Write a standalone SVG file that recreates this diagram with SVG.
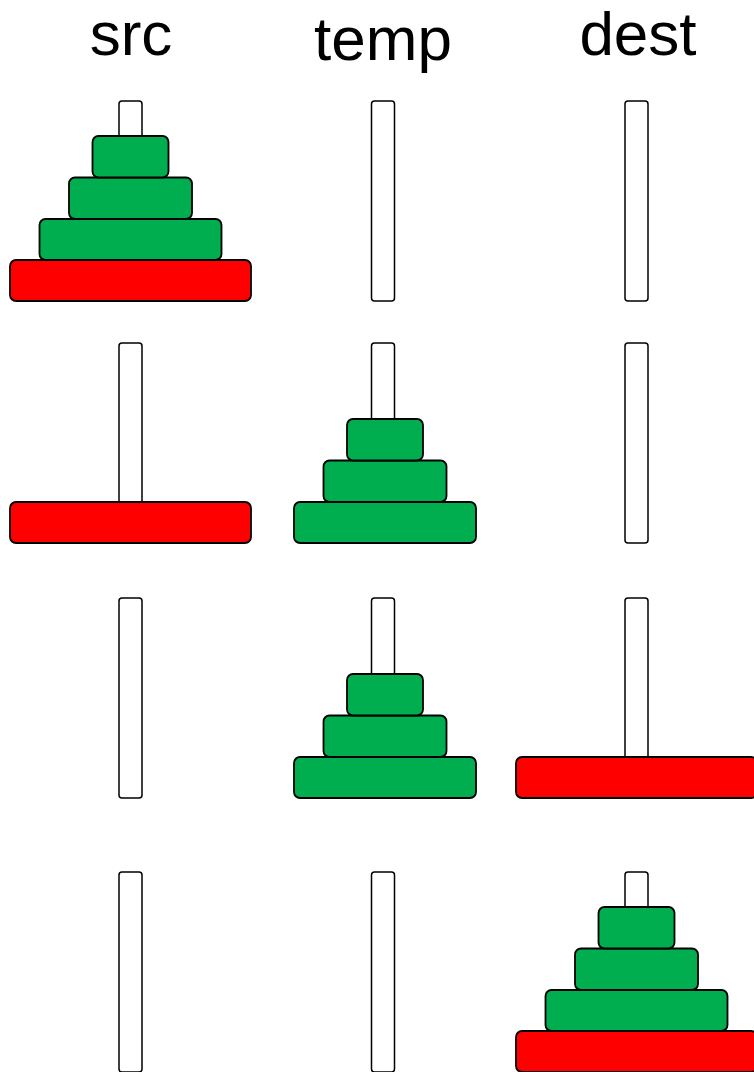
<svg xmlns="http://www.w3.org/2000/svg" width="754" height="1072" viewBox="0 0 754 1072">
<style>
.lbl{font-family:"Liberation Sans",Arial,sans-serif;font-size:62px;fill:#000;text-anchor:middle}
.peg{fill:#fff;stroke:#000;stroke-width:1.5}
.g{fill:#00ad4f;stroke:#000;stroke-width:1.8}
.r{fill:#ff0000;stroke:#000;stroke-width:1.8}
</style>
<rect width="754" height="1072" fill="#fff"/>
<g id="labels">
<text class="lbl" x="131" y="55">src</text>
<text class="lbl" x="383" y="60">temp</text>
<text class="lbl" x="638" y="55">dest</text>
</g>
<g id="row1">
<rect class="peg" x="119" y="101" width="23" height="200" rx="3"/>
<rect class="peg" x="371.5" y="101" width="23" height="200" rx="3"/>
<rect class="peg" x="625" y="101" width="23" height="200" rx="3"/>
<rect class="r" x="10" y="260" width="241" height="41" rx="6"/>
<rect class="g" x="39.5" y="219" width="182" height="41" rx="6"/>
<rect class="g" x="69" y="177.5" width="123" height="41.5" rx="6"/>
<rect class="g" x="92.5" y="136" width="76" height="41.5" rx="6"/>
</g>
<g id="row2">
<rect class="peg" x="119" y="343" width="23" height="200" rx="3"/>
<rect class="peg" x="371.5" y="343" width="23" height="200" rx="3"/>
<rect class="peg" x="625" y="343" width="23" height="200" rx="3"/>
<rect class="r" x="10" y="502" width="241" height="41" rx="6"/>
<rect class="g" x="294" y="502" width="182" height="41" rx="6"/>
<rect class="g" x="323.5" y="460.5" width="123" height="41.5" rx="6"/>
<rect class="g" x="347" y="419" width="76" height="41.5" rx="6"/>
</g>
<g id="row3">
<rect class="peg" x="119" y="598" width="23" height="200" rx="3"/>
<rect class="peg" x="371.5" y="598" width="23" height="200" rx="3"/>
<rect class="peg" x="625" y="598" width="23" height="200" rx="3"/>
<rect class="g" x="294" y="757" width="182" height="41" rx="6"/>
<rect class="g" x="323.5" y="715.5" width="123" height="41.5" rx="6"/>
<rect class="g" x="347" y="674" width="76" height="41.5" rx="6"/>
<rect class="r" x="516" y="757" width="241" height="41" rx="6"/>
</g>
<g id="row4">
<rect class="peg" x="119" y="872" width="23" height="200" rx="3"/>
<rect class="peg" x="371.5" y="872" width="23" height="200" rx="3"/>
<rect class="peg" x="625" y="872" width="23" height="200" rx="3"/>
<rect class="r" x="516" y="1031" width="241" height="41" rx="6"/>
<rect class="g" x="545.5" y="990" width="182" height="41" rx="6"/>
<rect class="g" x="575" y="948.5" width="123" height="41.5" rx="6"/>
<rect class="g" x="598.5" y="907" width="76" height="41.5" rx="6"/>
</g>
<g id="connectors"></g>
</svg>
